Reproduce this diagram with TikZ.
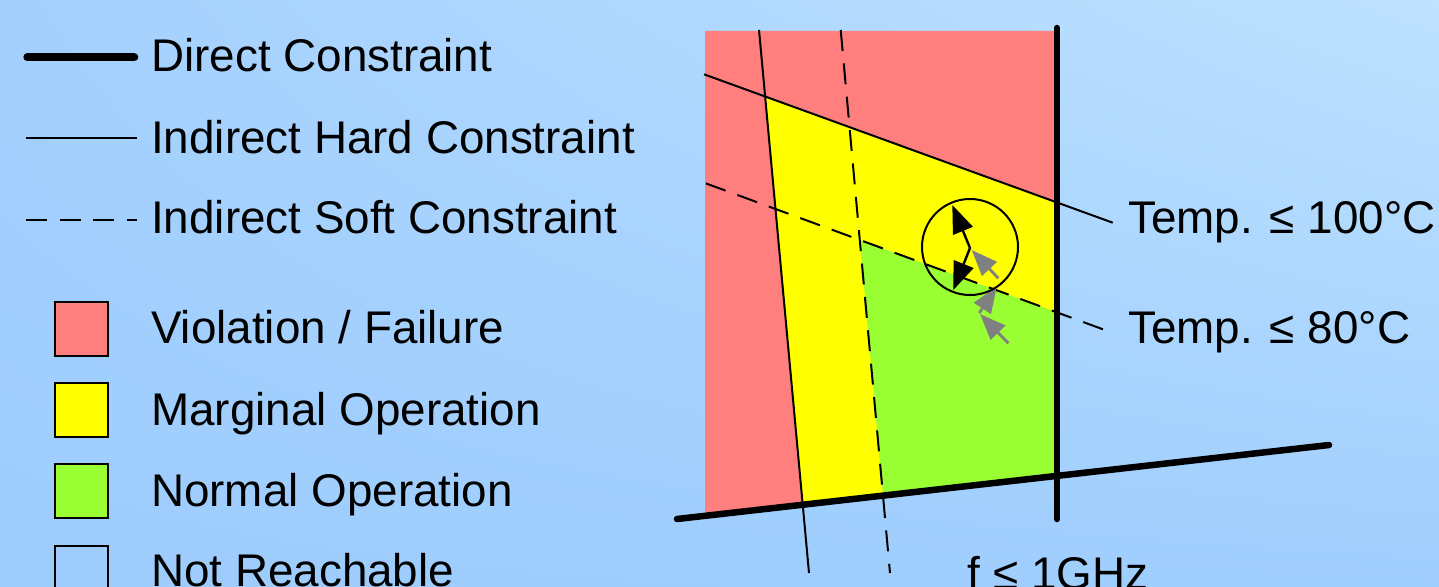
\documentclass[tikz,border=0pt]{standalone}
\usepackage{fontspec}
\setmainfont{Liberation Sans}
\usetikzlibrary{arrows.meta,shadings}

\definecolor{failred}{RGB}{255,127,127}
\definecolor{marginyellow}{RGB}{255,255,0}
\definecolor{normalgreen}{RGB}{153,255,51}
\definecolor{bgtl}{RGB}{164,208,253}
\definecolor{bgtr}{RGB}{190,226,255}
\definecolor{bgbl}{RGB}{157,204,253}
\definecolor{bgbr}{RGB}{160,206,253}

\tikzset{
  direct/.style={line width=6.5pt, line cap=round},
  hard/.style={line width=2pt},
  soft/.style={line width=2pt, dash pattern=on 21pt off 12.5pt},
  keybox/.style={draw, line width=2pt, minimum size=53.5pt, inner sep=0pt},
  lbl/.style={anchor=base west, inner sep=0pt, font=\fontsize{45.8}{50}\selectfont},
  move/.style={line width=2.4pt, -{Triangle[length=28pt,width=21pt]}},
  drift/.style={gray, line width=2.8pt, -{Triangle[length=26pt,width=20pt]}}
}

\begin{document}
\begin{tikzpicture}[x=1pt,y=-1pt]

\useasboundingbox (0,0) rectangle (1439,586);
\clip (0,0) rectangle (1439,586);
\shade[upper left=bgtl, upper right=bgtr, lower left=bgbl, lower right=bgbr] (0,0) rectangle (1439,586);

% legend
\draw[direct, line width=8pt] (27.3,57.3) -- (134.3,57.3);
\draw[hard] (26,138.3) -- (136.7,138.3);
\draw[soft] (26,220) -- (137,220);

\node[lbl] (direct) at (151,71.7) {Direct Constraint};
\node[lbl] (hard) at (151,153.3) {Indirect Hard Constraint};
\node[lbl] (soft) at (151,233.3) {Indirect Soft Constraint};

\node[keybox, fill=failred] (kfail) at (81.7,328.8) {};
\node[keybox, fill=marginyellow] (kmargin) at (81.7,409.8) {};
\node[keybox, fill=normalgreen] (knormal) at (81.7,491.2) {};
\node[keybox] (knone) at (81.7,572.6) {};

\node[lbl] (fail) at (151,343.3) {Violation / Failure};
\node[lbl] (margin) at (151,425) {Marginal Operation};
\node[lbl] (normal) at (151,506) {Normal Operation};
\node[lbl] (none) at (151,586.7) {Not Reachable};

% constraint lines
\coordinate (hs1) at (704,74.3);   % Temp <= 100
\coordinate (hs2) at (1112.7,222.7);
\coordinate (hv1) at (759,30);
\coordinate (hv2) at (809,573);
\coordinate (ss1) at (704,182.7);  % Temp <= 80
\coordinate (ss2) at (1113,333);
\coordinate (sv1) at (840.7,30);
\coordinate (sv2) at (890,573);
\coordinate (ft) at (1057,28);     % f <= 1GHz
\coordinate (fb) at (1057,519);
\coordinate (bl) at (677,519);
\coordinate (br) at (1329,445);

% regions
\fill[failred] (705,31) -- (1057,31) -- (1057,476) -- (705,516) -- cycle;

\begin{scope}
\clip (705,31) -- (1057,31) -- (1057,476) -- (705,516) -- cycle;
\clip (hs1) -- (hs2) -- (1120,600) -- (700,600) -- cycle;
\clip (hv1) -- (hv2) -- (1120,573) -- (1120,30) -- cycle;
\fill[marginyellow] (700,0) rectangle (1120,600);
\end{scope}

\begin{scope}
\clip (705,31) -- (1057,31) -- (1057,476) -- (705,516) -- cycle;
\clip (ss1) -- (ss2) -- (1120,600) -- (700,600) -- cycle;
\clip (sv1) -- (sv2) -- (1120,573) -- (1120,30) -- cycle;
\fill[normalgreen] (700,0) rectangle (1120,600);
\end{scope}

\draw[hard] (hs1) -- (hs2);
\draw[hard] (hv1) -- (hv2);
\draw[soft, dash phase=-2pt] (ss1) -- (ss2);
\draw[soft] (sv1) -- (sv2);
\draw[direct] (ft) -- (fb);
\draw[direct] (bl) -- (br);

\node[lbl] (t100) at (1128,233) {Temp. ≤ 100°C};
\node[lbl] (t80) at (1128,343) {Temp. ≤ 80°C};
\node[lbl] (fmax) at (967.5,589.5) {f ≤ 1GHz};

% operating point
\coordinate (g0) at (1008.3,343.3);
\coordinate (g1) at (980,314);
\coordinate (g2) at (979.3,313);
\coordinate (g3) at (996.7,286.7);
\coordinate (g4) at (998.3,278.3);
\coordinate (g5) at (971.7,250);
\draw[drift] (g0) -- (g1);
\draw[drift] (g2) -- (g3);
\draw[drift] (g4) -- (g5);

\draw[hard] (970,247) circle[radius=48];
\coordinate (op) at (970,248);
\draw[move] (op) -- (952.3,205);
\draw[move] (op) -- (953.3,290);

\end{tikzpicture}
\end{document}
